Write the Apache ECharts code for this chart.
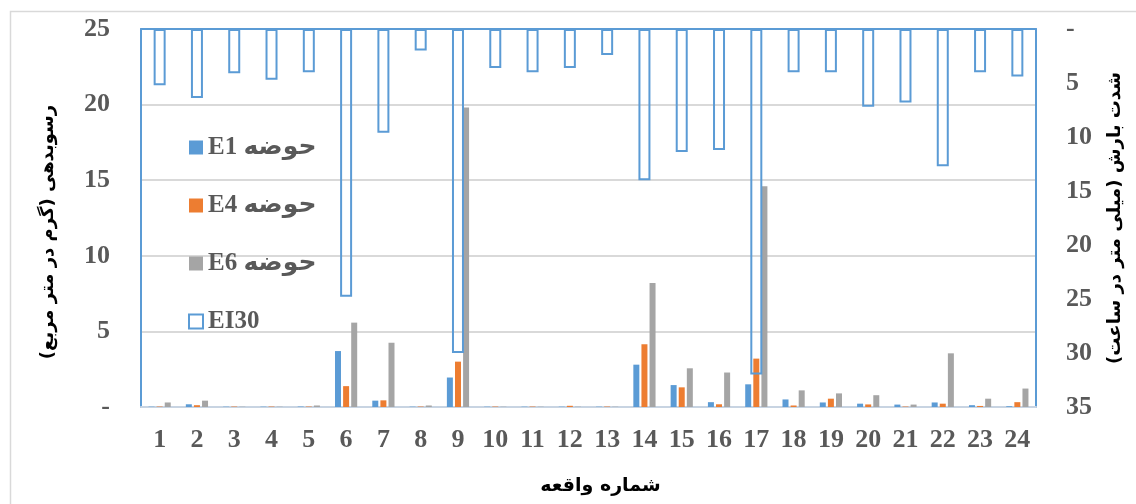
<!DOCTYPE html>
<html>
<head>
<meta charset="utf-8">
<script src="https://cdn.jsdelivr.net/npm/echarts@6/dist/echarts.min.js"></script>
<style>
	html, body { margin: 0; padding: 0; background: #fff; }
	#chart { width: 1136px; height: 504px; }
</style>
</head>
<body>
<div id="chart"></div>
<script>
// شماره واقعه
var categories = ['1', '2', '3', '4', '5', '6', '7', '8', '9', '10', '11', '12',
	'13', '14', '15', '16', '17', '18', '19', '20', '21', '22', '23', '24'];
// رسوبدهی (گرم در متر مربع)
var e1Data = [0.02, 0.18, 0.02, 0.02, 0.03, 3.7, 0.42, 0.02, 1.95, 0.02, 0.02, 0.02,
	0.02, 2.8, 1.45, 0.32, 1.5, 0.5, 0.3, 0.22, 0.16, 0.3, 0.12, 0.05];
var e4Data = [0.03, 0.12, 0.03, 0.03, 0.03, 1.38, 0.44, 0.03, 3.0, 0.03, 0.03, 0.08,
	0.03, 4.15, 1.3, 0.18, 3.2, 0.1, 0.55, 0.17, 0.03, 0.22, 0.07, 0.32];
var e6Data = [0.3, 0.42, 0.02, 0.02, 0.1, 5.58, 4.25, 0.1, 19.8, 0.02, 0.02, 0.02,
	0.02, 8.2, 2.56, 2.28, 14.6, 1.1, 0.9, 0.78, 0.16, 3.55, 0.55, 1.22];
// شدت بارش (میلی متر در ساعت)
var ei30Data = [5.2, 6.4, 4.1, 4.7, 4.0, 24.8, 9.6, 2.0, 30.0, 3.6, 4.0, 3.6,
	2.4, 14.0, 11.4, 11.2, 32.0, 4.0, 4.0, 7.2, 6.8, 12.7, 4.0, 4.4];

var numFont = "'Liberation Serif', 'Times New Roman', serif";
var faFont = "'DejaVu Sans', sans-serif";
var labelColor = '#595959';
var blue = '#5B9BD5';

function dashZero(v) {
	return v === 0 ? '-' : v;
}

var chart = echarts.init(document.getElementById('chart'));
var option = {
	animation: false,
	backgroundColor: '#fff',
	graphic: [{
		type: 'rect',
		shape: { x: 10.5, y: 11.5, width: 1140, height: 520 },
		style: { fill: 'none', stroke: '#d9d9d9', lineWidth: 1.5 },
		silent: true,
		z: -10
	}],
	grid: {
		left: 141,
		right: 100,
		top: 29,
		bottom: 97
	},
	legend: {
		orient: 'vertical',
		left: 183,
		top: 130,
		itemWidth: 14,
		itemHeight: 14,
		itemGap: 33,
		icon: 'rect',
		textStyle: {
			fontFamily: numFont + ', ' + faFont,
			fontWeight: 'bold',
			fontSize: 25,
			color: labelColor
		},
		data: ['E1 حوضه', 'E4 حوضه', 'E6 حوضه', 'EI30']
	},
	xAxis: [{
		type: 'category',
		data: categories,
		position: 'bottom',
		name: 'شماره واقعه',
		nameLocation: 'middle',
		nameGap: 70,
		nameTextStyle: {
			fontFamily: faFont,
			fontWeight: 'bold',
			fontSize: 19,
			color: '#000',
			padding: [0, 0, 0, 24]
		},
		axisLine: { lineStyle: { color: '#c8d4e2', width: 2 } },
		axisTick: { show: false },
		axisLabel: {
			margin: 20,
			fontFamily: numFont,
			fontWeight: 'bold',
			fontSize: 26,
			color: labelColor
		}
	}, {
		type: 'category',
		data: categories,
		position: 'top',
		axisLine: { lineStyle: { color: blue, width: 2 } },
		axisTick: { show: false },
		axisLabel: { show: false }
	}],
	yAxis: [{
		type: 'value',
		min: 0,
		max: 25,
		interval: 5,
		position: 'left',
		name: 'رسوبدهی (گرم در متر مربع)',
		nameLocation: 'middle',
		nameRotate: 90,
		nameGap: 84,
		nameTextStyle: {
			fontFamily: faFont,
			fontWeight: 'bold',
			fontSize: 18,
			color: '#000',
			padding: [0, 28, 0, 0]
		},
		axisLine: { show: true, lineStyle: { color: blue, width: 2 } },
		axisTick: { show: false },
		splitLine: { lineStyle: { color: '#d9d9d9', width: 2 } },
		axisLabel: {
			margin: 31,
			fontFamily: numFont,
			fontWeight: 'bold',
			fontSize: 26,
			color: labelColor,
			formatter: dashZero
		}
	}, {
		type: 'value',
		min: 0,
		max: 35,
		interval: 5,
		inverse: true,
		position: 'right',
		name: 'شدت بارش (میلی متر در ساعت)\u200F',
		nameLocation: 'middle',
		nameRotate: 90,
		nameGap: 70,
		nameTextStyle: {
			fontFamily: faFont,
			fontWeight: 'bold',
			fontSize: 18,
			color: '#000'
		},
		axisLine: { show: true, lineStyle: { color: blue, width: 2 } },
		axisTick: { show: false },
		splitLine: { show: false },
		axisLabel: {
			margin: 30,
			fontFamily: numFont,
			fontWeight: 'bold',
			fontSize: 26,
			color: labelColor,
			formatter: dashZero
		}
	}],
	series: [{
		name: 'E1 حوضه',
		type: 'bar',
		xAxisIndex: 0,
		yAxisIndex: 0,
		barWidth: 6,
		barGap: '35%',
		itemStyle: { color: '#5B9BD5' },
		data: e1Data
	}, {
		name: 'E4 حوضه',
		type: 'bar',
		xAxisIndex: 0,
		yAxisIndex: 0,
		barWidth: 6,
		barGap: '35%',
		itemStyle: { color: '#ED7D31' },
		data: e4Data
	}, {
		name: 'E6 حوضه',
		type: 'bar',
		xAxisIndex: 0,
		yAxisIndex: 0,
		barWidth: 6,
		barGap: '35%',
		itemStyle: { color: '#A5A5A5' },
		data: e6Data
	}, {
		name: 'EI30',
		type: 'bar',
		xAxisIndex: 1,
		yAxisIndex: 1,
		barWidth: 12,
		itemStyle: {
			color: 'rgba(255,255,255,0)',
			borderColor: blue,
			borderWidth: 2
		},
		z: 3,
		data: ei30Data
	}]
};
chart.setOption(option);
</script>
</body>
</html>
